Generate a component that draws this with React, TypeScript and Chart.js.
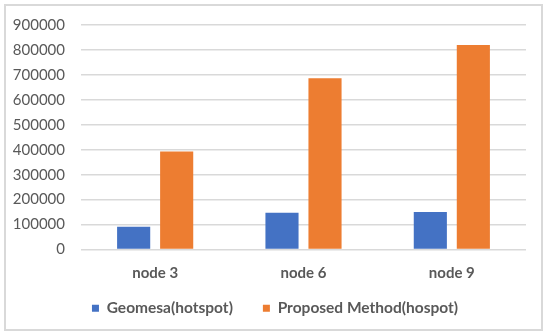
import React, { useEffect, useRef } from "react";
import { Chart, registerables } from "chart.js";

Chart.register(...registerables);

const categories = ["node 3", "node 6", "node 9"];
const geomesa = [91000, 147000, 150000];
const proposed = [393000, 687000, 820000];
const seriesNames = ["Geomesa(hotspot)", "Proposed Method(hospot)"];

const TEXT = "#595959";
const FONT = "Lato";
const LEGEND_SHIFT = 20;

// Lets the legend keep a wide horizontal gap between items without
// reserving the same amount of vertical room above them.
const legendShift = {
  id: "legendShift",
  beforeUpdate(chart: any) {
    const lg = chart.legend;
    if (lg && !lg._shiftPatched) {
      const orig = lg.fit;
      lg.fit = function (this: any) {
        orig.call(this);
        this.height -= LEGEND_SHIFT;
      };
      lg._shiftPatched = true;
    }
  },
  afterLayout(chart: any) {
    const lg = chart.legend;
    if (lg) {
      lg.top -= LEGEND_SHIFT;
      lg.height += LEGEND_SHIFT;
    }
  },
};

export default function App() {
  const ref = useRef<HTMLCanvasElement | null>(null);
  useEffect(() => {
    if (!ref.current) return;
    const chart = new Chart(ref.current, {
      type: "bar",
      data: {
        labels: categories,
        datasets: [
          {
            label: seriesNames[0],
            data: geomesa,
            backgroundColor: "#4472C4",
            categoryPercentage: 0.58,
            barPercentage: 0.77,
          },
          {
            label: seriesNames[1],
            data: proposed,
            backgroundColor: "#ED7D31",
            categoryPercentage: 0.58,
            barPercentage: 0.77,
          },
        ],
      },
      plugins: [legendShift],
      options: {
        responsive: false,
        animation: false,
        layout: { padding: { left: 0, right: 0, top: 16, bottom: 10 } },
        plugins: {
          legend: {
            position: "bottom",
            labels: {
              boxWidth: 7,
              boxHeight: 7,
              padding: 30,
              color: TEXT,
              font: { family: FONT, size: 15.5, weight: "bold" },
            },
          },
          tooltip: { enabled: false },
        },
        scales: {
          x: {
            grid: { display: false, drawTicks: false },
            border: { display: false },
            ticks: {
              color: TEXT,
              padding: 15,
              font: { family: FONT, size: 15, weight: "bold" },
            },
            afterFit: (s: any) => {
              s.height = 41;
            },
          },
          y: {
            min: 0,
            max: 900000,
            grid: { color: "#d9d9d9", lineWidth: 1.5, drawTicks: false },
            border: { display: false },
            ticks: {
              stepSize: 100000,
              color: TEXT,
              padding: 16,
              font: { family: FONT, size: 15 },
              callback: (v: any) => String(v),
            },
            afterFit: (s: any) => {
              s.width = 81;
            },
          },
          y2: {
            position: "right",
            display: true,
            grid: { display: false, drawTicks: false },
            border: { display: false },
            ticks: { display: false },
            afterFit: (s: any) => {
              s.width = 24;
            },
          },
        },
      },
    });
    return () => chart.destroy();
  }, []);

  return (
    <div style={{ position: "absolute", left: 0, top: 0, width: 550, height: 336, background: "#fff" }}>
      <div
        style={{
          position: "absolute",
          left: 4,
          top: 4,
          width: 539,
          height: 327,
          border: "2px solid #d9d9d9",
          boxSizing: "border-box",
        }}
      />
      <canvas ref={ref} width={550} height={336} style={{ position: "absolute", left: 0, top: 0 }} />
    </div>
  );
}
